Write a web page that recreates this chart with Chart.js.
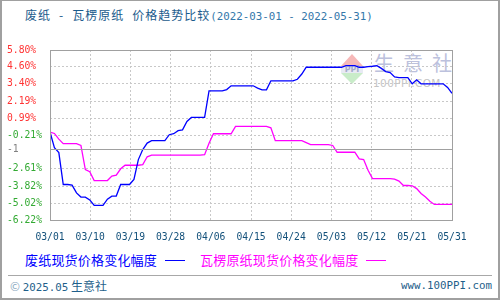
<!DOCTYPE html>
<html>
<head>
<meta charset="utf-8">
<script src="https://cdn.jsdelivr.net/npm/chart.js@4/dist/chart.umd.min.js"></script>
<style>
  html, body { margin:0; padding:0; background:#fff; }
  #wrap { position:relative; width:500px; height:300px; box-sizing:border-box; border:2px solid #a0a0a0; border-top:1px solid #a0a0a0; overflow:hidden; background:#fff; }
  #c { position:absolute; left:-2px; top:-1px; z-index:2; }
  .abs { position:absolute; white-space:nowrap; }
  #title { left:23px; top:6px; font-family:"Noto Sans CJK SC", sans-serif; font-size:12px; letter-spacing:1px; color:#1a5b8c; line-height:16px; }
  #title .sp { display:inline-block; width:8px; }
  #title .d { font-family:"DejaVu Sans Mono", monospace; font-size:10.8px; letter-spacing:0; color:#3478aa; }
  #legend { left:23px; top:250px; font-family:"Noto Sans CJK SC", sans-serif; font-size:13px; letter-spacing:0.2px; line-height:18px; }
  #legend .ln { display:inline-block; width:20px; height:0; border-top:1px solid; vertical-align:middle; margin-left:8px; margin-right:15px; position:relative; top:-1px; }
  #sep { left:6px; top:274px; width:484px; height:0; border-top:1px solid #a8a8a8; }
  #copy { left:8px; top:277px; font-family:"Noto Sans CJK SC", sans-serif; font-size:12px; color:#1f5f8b; line-height:16px; }
  #copy .m { font-family:"DejaVu Sans Mono", monospace; font-size:10.8px; }
  #copy .cc { color:#8aa8c0; }
  #site { right:6px; top:277px; font-family:"DejaVu Sans Mono", monospace; font-size:10.8px; color:#1f5f8b; line-height:16px; }
  #wm { left:339px; top:53px; z-index:1; }
  .tri-up { width:0; height:0; border-left:11px solid transparent; border-right:11px solid transparent; border-bottom:12px solid #f6b8b8; }
  .ppi { width:22px; text-align:center; font:bold 8px "DejaVu Sans", sans-serif; color:#a4aacb; line-height:7px; background:#e8eaf4; }
  .tri-dn { width:0; height:0; border-left:11px solid transparent; border-right:11px solid transparent; border-top:11px solid #c9ecc9; }
  #wmtxt { left:372px; top:49px; z-index:1; font-family:"Noto Sans CJK SC", sans-serif; font-size:20px; letter-spacing:9px; color:#bcc1dd; line-height:26px; }
  #wmsub { left:371px; top:76px; z-index:1; font-family:"DejaVu Sans", sans-serif; font-size:10.5px; color:#c4c4c4; line-height:12px; letter-spacing:0.4px; }
</style>
</head>
<body>
<div id="wrap">
  <div id="title" class="abs">废纸<span class="sp"></span>-<span class="sp"></span>瓦楞原纸<span class="sp"></span>价格趋势比较<span class="d">(2022-03-01 - 2022-05-31)</span></div>
  <div id="wm" class="abs"><div class="tri-up"></div><div class="ppi">PPI</div><div class="tri-dn"></div></div>
  <div id="wmtxt" class="abs">生意社</div>
  <div id="wmsub" class="abs">100PPI.COM</div>
  <canvas id="c" width="500" height="300"></canvas>
  <div id="legend" class="abs"><span style="color:#0000ff">废纸现货价格变化幅度</span><span class="ln" style="border-color:#0000ff"></span><span style="color:#ff00ff">瓦楞原纸现货价格变化幅度</span><span class="ln" style="border-color:#ff00ff"></span></div>
  <div id="sep" class="abs"></div>
  <div id="copy" class="abs"><span class="cc">©</span> <span class="m">2025.05</span> 生意社</div>
  <div id="site" class="abs">www.100PPI.com</div>
</div>
<script>
// ---- data ----
const seriesNames = ['废纸现货价格变化幅度', '瓦楞原纸现货价格变化幅度'];
const xTickLabels = ['03/01','03/10','03/19','03/28','04/06','04/15','04/24','05/03','05/12','05/21','05/31'];
const totalDays = 91; // 03/01 .. 05/31
const yTickValues = [5.80, 4.60, 3.40, 2.19, 0.99, -0.21, -1.22, -2.61, -3.82, -5.02, -6.22];
const yTickLabels = ['5.80%','4.60%','3.40%','2.19%','0.99%','-0.21%','-1','-2.61%','-3.82%','-5.02%','-6.22%'];
const baseLineValue = -1.22;

// daily values, day 0 = 03/01
const wastePaper = [
  0, -1.1, -1.45, -3.71, -3.71, -3.75, -4.3, -4.6, -4.6, -4.8,
  -5.19, -5.19, -5.19, -4.75, -4.53, -4.53, -3.71, -3.71, -3.71, -3.35,
  -1.95, -1.24, -0.78, -0.61, -0.61, -0.61, -0.61, -0.19, -0.12, 0.10,
  0.15, 0.75, 1.03, 1.03, 1.03, 1.03, 2.91, 2.91, 2.91, 2.91,
  3.0, 3.27, 3.27, 3.27, 3.27, 3.27, 3.27, 3.1, 2.98, 2.98,
  3.62, 3.62, 3.62, 3.62, 3.62, 3.62, 3.73, 4.1, 4.58, 4.58,
  4.58, 4.58, 4.58, 4.58, 4.58, 4.58, 4.58, 4.69, 4.69, 4.69,
  4.58, 4.58, 4.62, 4.65, 4.69, 4.5, 4.27, 4.2, 3.9, 3.85,
  3.85, 3.85, 3.41, 3.69, 3.41, 3.41, 3.41, 3.41, 3.41, 3.41,
  3.15, 2.74
];
const corrugated = [
  0, -0.1, -0.5, -0.82, -0.82, -0.82, -0.82, -0.95, -2.65, -2.8,
  -3.43, -3.43, -3.43, -3.43, -3.12, -3.05, -2.6, -2.35, -2.35, -2.35,
  -2.35, -2.3, -1.75, -1.64, -1.64, -1.64, -1.64, -1.64, -1.64, -1.64,
  -1.64, -1.64, -1.64, -1.64, -1.64, -1.6, -0.8, -0.12, -0.12, -0.12,
  -0.12, -0.12, 0.40, 0.40, 0.40, 0.40, 0.40, 0.40, 0.40, 0.40,
  0.3, -0.61, -0.61, -0.61, -0.61, -0.61, -0.61, -0.61, -0.75, -0.89,
  -0.89, -0.89, -0.89, -0.89, -0.95, -1.43, -1.43, -1.43, -1.43, -1.43,
  -1.9, -1.95, -2.7, -3.29, -3.29, -3.29, -3.29, -3.29, -3.33, -3.47,
  -3.78, -3.78, -3.8, -4.0, -4.35, -4.6, -4.9, -5.12, -5.12, -5.12,
  -5.12, -5.12
];

const toPoints = arr => arr.map((v, i) => ({ x: i, y: v }));

const framePlugin = {
  id: 'frame',
  afterDatasetsDraw(chart) {
    const { ctx, chartArea: a, scales } = chart;
    ctx.save();
    ctx.strokeStyle = '#a0a0a0';
    ctx.lineWidth = 1;
    const yb = Math.round(scales.y.getPixelForValue(baseLineValue)) + 0.5;
    ctx.beginPath();
    ctx.moveTo(a.left, yb); ctx.lineTo(a.right, yb);
    ctx.stroke();
    ctx.strokeRect(Math.round(a.left) + 0.5, Math.round(a.top) + 0.5, Math.round(a.right - a.left), Math.round(a.bottom - a.top));
    ctx.restore();
  }
};

const gridColor = (ctx, n, skip) => {
  if (ctx.index === 0 || ctx.index === n - 1 || ctx.index === skip) return 'rgba(0,0,0,0)';
  return '#c8c8c8';
};

new Chart(document.getElementById('c'), {
  type: 'line',
  data: {
    datasets: [
      { label: seriesNames[0], data: toPoints(wastePaper), borderColor: '#0000ff', borderWidth: 1.3, pointRadius: 0, tension: 0, fill: false },
      { label: seriesNames[1], data: toPoints(corrugated), borderColor: '#ff00ff', borderWidth: 1.3, pointRadius: 0, tension: 0, fill: false }
    ]
  },
  options: {
    responsive: false,
    animation: false,
    events: [],
    layout: { padding: { left: 7, right: 48, top: 50, bottom: 50 } },
    plugins: { legend: { display: false }, title: { display: false }, tooltip: { enabled: false } },
    scales: {
      x: {
        type: 'linear', min: 0, max: totalDays,
        afterBuildTicks: s => { s.ticks = xTickLabels.map((l, i) => ({ value: i * totalDays / (xTickLabels.length - 1) })); },
        afterFit: s => { s.height = 30; },
        ticks: {
          autoSkip: false, maxRotation: 0, padding: 12,
          callback: (v, i) => xTickLabels[i],
          color: '#12507a',
          font: { family: 'DejaVu Sans Mono', size: 9.7 }
        },
        grid: { color: c => gridColor(c, xTickLabels.length, -1), drawTicks: false, lineWidth: 1 },
        border: { display: false, dash: [2, 2] }
      },
      y: {
        min: -6.22, max: 5.80,
        afterBuildTicks: s => { s.ticks = yTickValues.map(v => ({ value: v })); },
        afterFit: s => { s.width = 43; },
        ticks: {
          autoSkip: false, crossAlign: 'far', padding: 4,
          callback: (v, i) => yTickLabels[i],
          color: c => {
            const i = c.index;
            if (yTickLabels[i] === '-1') return '#808080';
            return yTickValues[i] > 0 ? '#ff3333' : '#33aa33';
          },
          font: { family: 'DejaVu Sans Mono', size: 9.7 }
        },
        grid: { color: c => gridColor(c, yTickValues.length, yTickLabels.indexOf('-1')), drawTicks: false, lineWidth: 1 },
        border: { display: false, dash: [2, 2] }
      }
    }
  },
  plugins: [framePlugin]
});
</script>
</body>
</html>
